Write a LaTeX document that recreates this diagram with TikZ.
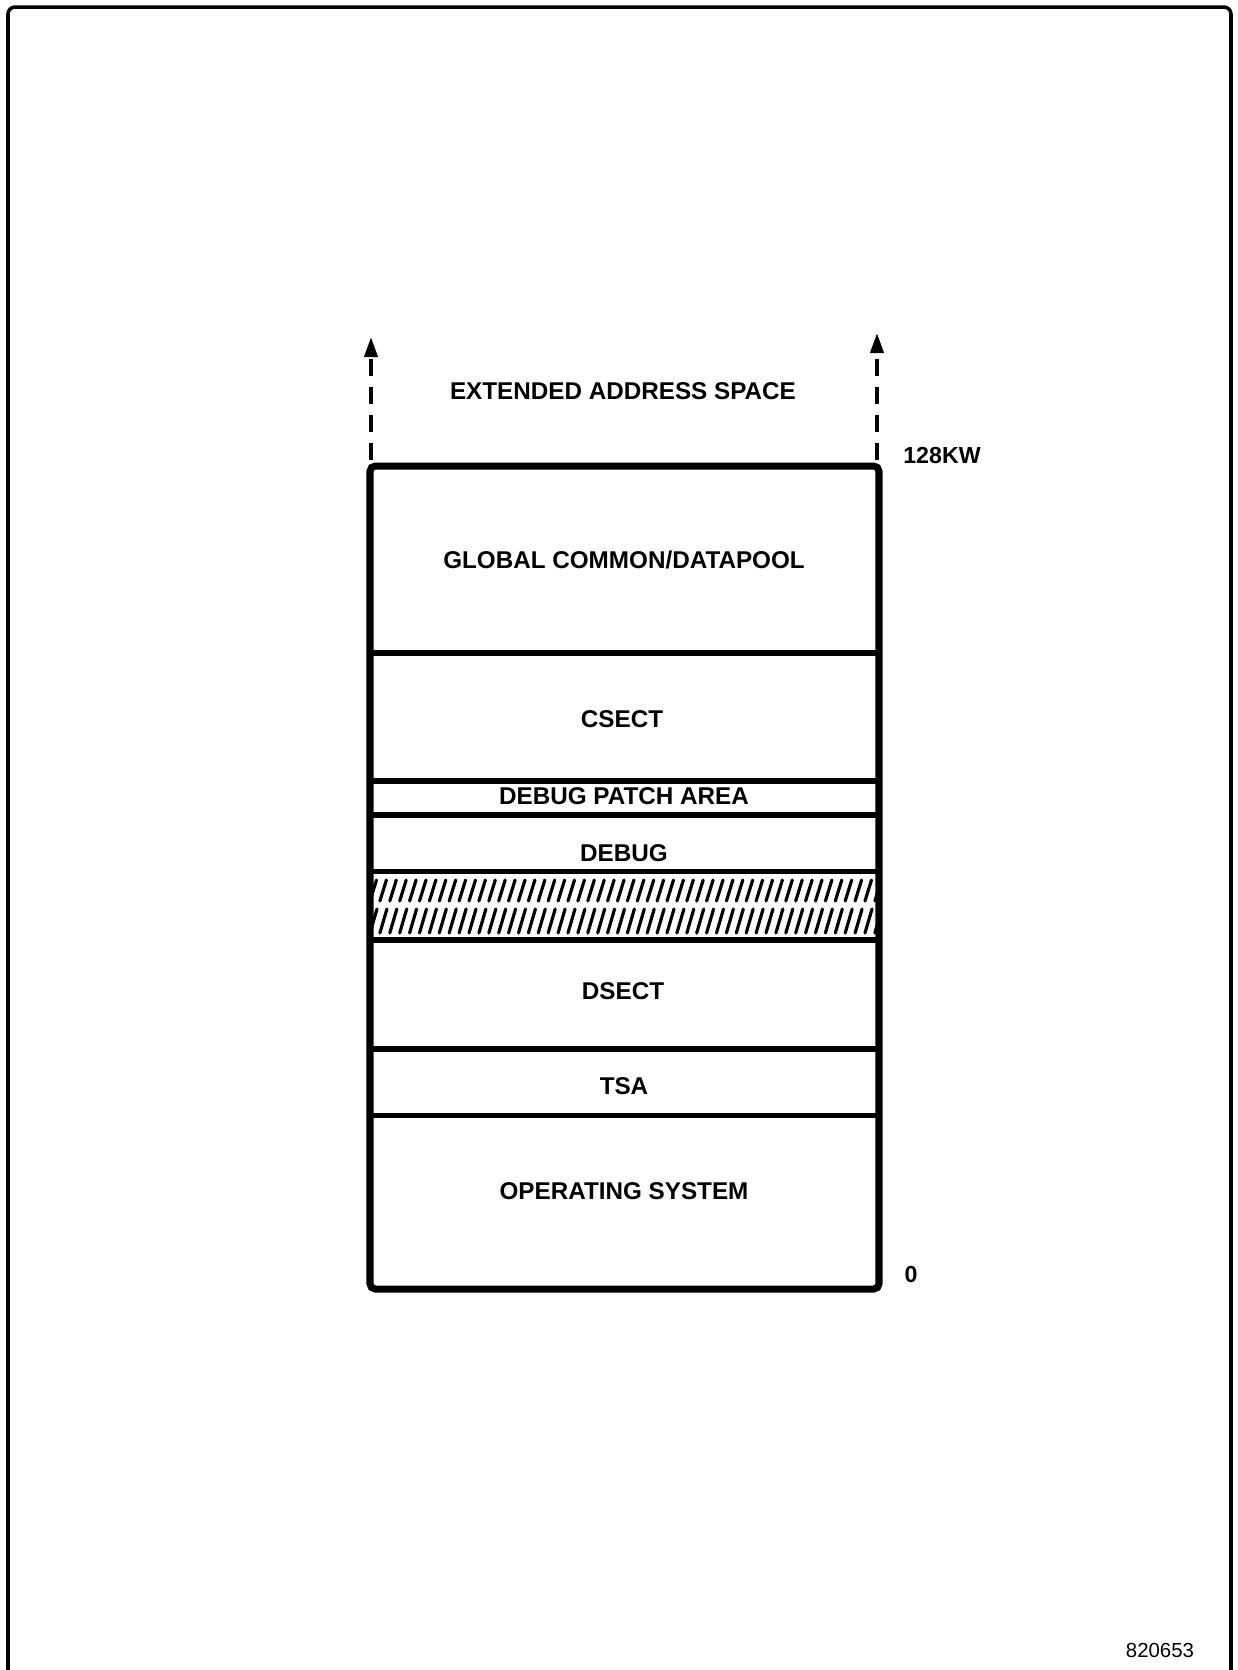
\documentclass[tikz,border=0pt]{standalone}
\usepackage{fontspec}
\setmainfont{Liberation Sans}
\usetikzlibrary{arrows.meta}

\begin{document}
\begin{tikzpicture}[
          seg/.style={font=\fontsize{6.9}{8}\selectfont\bfseries, inner sep=0pt},
          addr/.style={font=\fontsize{6.6}{8}\selectfont\bfseries, inner sep=0pt},
          divider/.style={line width=1.5pt},
          upArr/.style={dash pattern=on 1.7mm off 1.1mm, line width=1.1pt,
                        -{Triangle[length=2mm, width=1.3mm]}},
          hatch/.style={line width=0.9pt, line cap=round}
        ]
        \useasboundingbox (0,0) rectangle (12.38,-16.70);
        % page frame, open at the bottom
        \draw[line width=1pt, rounded corners=2pt]
              (0.08,-16.70) |- (12.31,-0.07) -- (12.31,-16.70);

        % memory map
        \draw[divider] (3.70,-6.53)   -- (8.79,-6.53);
        \draw[divider] (3.70,-7.81)   -- (8.79,-7.81);
        \draw[divider] (3.70,-8.15)   -- (8.79,-8.15);
        \draw[divider] (3.70,-8.715)  -- (8.79,-8.715);
        \draw[divider] (3.70,-9.40)   -- (8.79,-9.40);
        \draw[divider] (3.70,-10.49)  -- (8.79,-10.49);
        \draw[divider] (3.70,-11.155) -- (8.79,-11.155);

        % unused area between DEBUG and DSECT
        \begin{scope}
          \clip (3.72,-8.715) rectangle (8.77,-9.40);
          \foreach \i in {0,...,51} {
            \draw[hatch] (3.70+\i*0.099,-9.01) -- ++(0.065,0.21);
            \draw[hatch] (3.70+\i*0.099,-9.33) -- ++(0.07,0.24);
          }
        \end{scope}

        \draw[line width=2pt, rounded corners=1.5pt] (3.70,-4.66) rectangle (8.79,-12.89);

        \node[seg] (ext)    at (6.23,-3.91)  {EXTENDED ADDRESS SPACE};
        \node[seg] (global) at (6.24,-5.60)  {GLOBAL COMMON/DATAPOOL};
        \node[seg] (csect)  at (6.22,-7.19)  {CSECT};
        \node[seg] (patch)  at (6.24,-7.96)  {DEBUG PATCH AREA};
        \node[seg] (debug)  at (6.24,-8.53)  {DEBUG};
        \node[seg] (dsect)  at (6.23,-9.91)  {DSECT};
        \node[seg] (tsa)    at (6.24,-10.86) {TSA};
        \node[seg] (os)     at (6.24,-11.91) {OPERATING SYSTEM};

        \node[addr] (top)  at (9.42,-4.55)  {128KW};
        \node[addr] (zero) at (9.11,-12.74) {0};
        \node[font=\fontsize{5.8}{7}\selectfont, inner sep=0pt] (fig) at (11.60,-16.50) {820653};

        % extended space continues upward
        \coordinate (leftBase)  at (3.71,-4.60);
        \coordinate (leftTip)   at (3.71,-3.37);
        \coordinate (rightBase) at (8.77,-4.60);
        \coordinate (rightTip)  at (8.77,-3.33);
        \draw[upArr] (leftBase)  -- (leftTip);
        \draw[upArr] (rightBase) -- (rightTip);
      \end{tikzpicture}
\end{document}
